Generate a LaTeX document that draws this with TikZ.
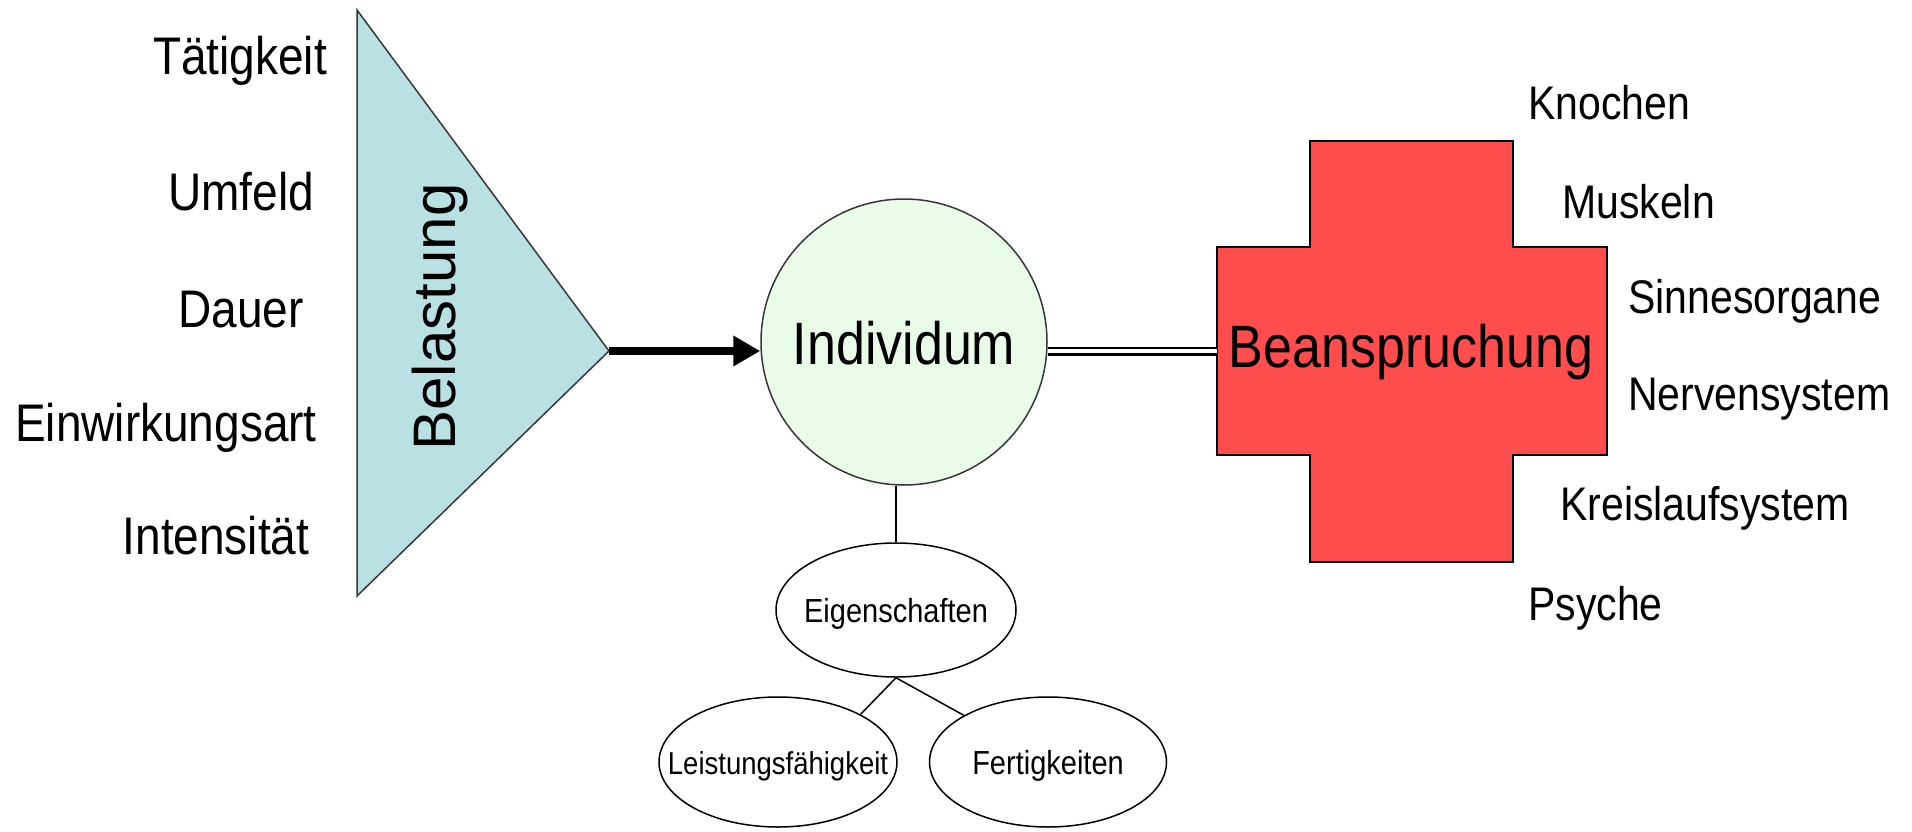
\documentclass[tikz,border=0pt]{standalone}
\usepackage{fontspec}
\setmainfont{Liberation Sans}
\usetikzlibrary{arrows.meta,shapes.geometric}
\newcommand{\vst}[1]{\scalebox{1}[1.15]{#1}}
\definecolor{triblue}{RGB}{185,224,227}
\definecolor{indgreen}{RGB}{232,252,232}
\definecolor{crossred}{RGB}{255,77,77}
\definecolor{edgegray}{RGB}{55,55,55}
\begin{document}
\begin{tikzpicture}[x=1pt,y=-1pt,
  lbl/.style={font=\fontsize{46}{50}\selectfont, anchor=base, inner sep=0pt},
  rlbl/.style={font=\fontsize{41}{45}\selectfont, anchor=base west, inner sep=0pt},
  subell/.style={draw=black, line width=1.5pt, ellipse, inner sep=0pt, text height=24pt, text depth=0pt, font=\fontsize{29}{32}\selectfont, fill=white},
  bigtxt/.style={font=\fontsize{52}{56}\selectfont, inner sep=0pt},
  conn/.style={line width=1.5pt, draw=black}
]
\useasboundingbox[fill=white] (0,0) rectangle (1912,832);

% triangle Belastung
\coordinate (apex) at (609,351);
\coordinate (triTop) at (357,10);
\coordinate (triBot) at (357,596);
\draw[fill=triblue, draw=edgegray, line width=1.5pt, line join=miter] (triTop) -- (apex) -- (triBot) -- cycle;
\node[font=\fontsize{60}{64}\selectfont, inner sep=0pt] (bel) at (440,317) {\rotatebox{90}{Belastung}};

% cross Beanspruchung
\draw[fill=crossred, draw=black, line width=2pt]
  (1310,141) -- (1513,141) -- (1513,247) -- (1607,247) -- (1607,455) -- (1513,455)
  -- (1513,562) -- (1310,562) -- (1310,455) -- (1217,455) -- (1217,247) -- (1310,247) -- cycle;
\coordinate (crossW) at (1217,351);
\node[bigtxt, anchor=base] (bean) at (1411,367) {\vst{Beanspruchung}};

% Individum
\node[circle, draw=edgegray, line width=1.5pt, fill=indgreen, minimum size=286pt, inner sep=0pt,
      text height=44pt, text depth=0pt, font=\fontsize{52}{56}\selectfont] (ind) at (904,342) {\vst{Individum}};

% connectors main
\draw[line width=8pt, -{Triangle[length=27pt,width=29pt]}] (apex) -- (apex -| ind.west);
\draw[line width=2.5pt, draw=black, double=white, double distance=4pt] (ind.east |- crossW) -- (crossW);

% left labels
\node[lbl] (taet) at (240,75) {\vst{Tätigkeit}};
\node[lbl] (umf) at (241,210) {\vst{Umfeld}};
\node[lbl] (dau) at (241,327) {\vst{Dauer}};
\node[lbl] (einw) at (166,441) {\vst{Einwirkungsart}};
\node[lbl] (inte) at (216,554) {\vst{Intensität}};

% right labels
\node[rlbl] (kno) at (1528,120) {\vst{Knochen}};
\node[rlbl] (mus) at (1562,218) {\vst{Muskeln}};
\node[rlbl] (sin) at (1628,313) {\vst{Sinnesorgane}};
\node[rlbl] (ner) at (1628,410) {\vst{Nervensystem}};
\node[rlbl] (kre) at (1560,520) {\vst{Kreislaufsystem}};
\node[rlbl] (psy) at (1528,620) {\vst{Psyche}};

% sub ellipses
\node[subell, minimum width=240pt, minimum height=134pt] (eig) at (896,610) {\makebox[0pt]{\vst{Eigenschaften}}};
\node[subell, minimum width=238pt, minimum height=130pt, font=\fontsize{27.5}{30}\selectfont] (leist) at (778,762) {\makebox[0pt]{\vst{Leistungsfähigkeit}}};
\node[subell, minimum width=237pt, minimum height=130pt] (fert) at (1048,762) {\makebox[0pt]{\vst{Fertigkeiten}}};

\draw[conn] (eig.north) -- (eig.north |- ind.south);
\draw[conn] (eig.south) -- (leist.30);
\draw[conn] (eig.south) -- (fert.151);
\end{tikzpicture}
\end{document}
